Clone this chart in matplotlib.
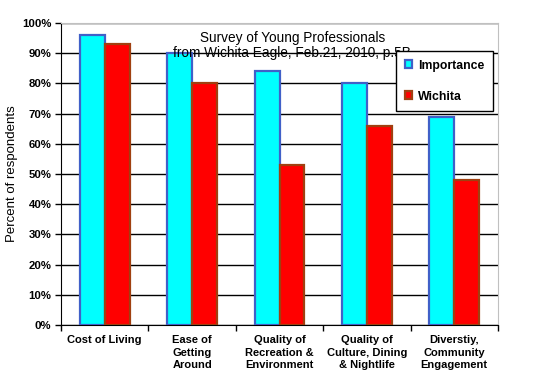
import numpy as np
from matplotlib import pyplot as plt
from matplotlib.ticker import FixedLocator, PercentFormatter

categories = ['Cost of Living', 'Ease of\nGetting\nAround', 'Quality of\nRecreation &\nEnvironment',
              'Quality of\nCulture, Dining\n& Nightlife', 'Diverstiy,\nCommunity\nEngagement']
importance = [96, 90, 84, 80, 69]
wichita = [93, 80, 53, 66, 48]

plt.rcParams['font.family'] = ['Liberation Sans', 'DejaVu Sans']

fig = plt.figure(figsize=(5.5, 3.82), dpi=100)
ax = fig.add_axes([61 / 550, 1 - 325 / 382, 437 / 550, 302 / 382])

x = np.arange(len(categories))
w = 0.286
ax.bar(x - w / 2, importance, w, color='#00FFFF', edgecolor='#4060C8', linewidth=1.6,
       label='Importance', zorder=3)
ax.bar(x + w / 2, wichita, w, color='#FF0000', edgecolor='#A04010', linewidth=1.6,
       label='Wichita', zorder=3)

ax.set_xlim(-0.5, len(categories) - 0.5)
ax.set_ylim(0, 100)
ax.set_yticks(np.arange(0, 101, 10))
ax.yaxis.set_major_formatter(PercentFormatter(decimals=0))
ax.grid(axis='y', color='black', linewidth=1, zorder=0)

ax.set_xticks(x)
ax.set_xticklabels(categories, fontsize=8, fontweight='bold', linespacing=1.35)
ax.xaxis.set_minor_locator(FixedLocator(np.arange(-0.5, len(categories), 1)))
ax.tick_params(axis='x', which='major', length=0, pad=7)
ax.tick_params(axis='x', which='minor', length=4, width=1, color='black')
ax.tick_params(axis='y', length=4, width=1, color='black', labelsize=8.2, pad=3)
for lbl in ax.get_yticklabels():
    lbl.set_fontweight('bold')

ax.spines['left'].set_color('black')
ax.spines['bottom'].set_color('black')
ax.spines['top'].set_color('#C0C0C0')
ax.spines['right'].set_color('#C0C0C0')

ax.set_ylabel('Percent of respondents', fontsize=9.5, labelpad=3)

ax.text(0.529, 0.975, 'Survey of Young Professionals\nfrom Wichita Eagle, Feb.21, 2010, p.5B',
        transform=ax.transAxes, ha='center', va='top', fontsize=9.8, linespacing=1.15, zorder=4)

leg = ax.legend(loc='upper right', bbox_to_anchor=((493 - 61) / 437, (325 - 51) / 302),
                fontsize=8.8, frameon=True, fancybox=False, framealpha=1, edgecolor='black',
                labelspacing=1.55, handlelength=0.6, handleheight=0.6, handletextpad=0.5,
                borderpad=0.7, borderaxespad=0)
leg.get_frame().set_linewidth(1)
for t in leg.get_texts():
    t.set_fontweight('bold')

fig.savefig('out.png', dpi=100)
